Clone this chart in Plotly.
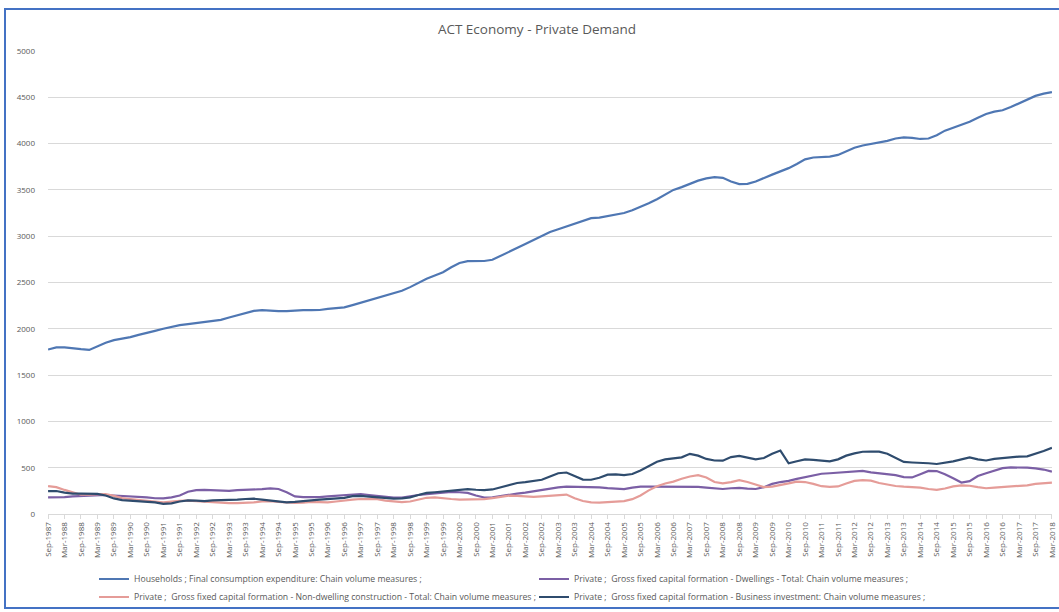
import plotly.graph_objects as go

months = ["Mar", "Jun", "Sep", "Dec"]
quarters = ["Sep-1987", "Dec-1987"] + [f"{m}-{y}" for y in range(1988, 2018) for m in months] + ["Mar-2018"]
tick_labels = quarters[::2]

households = [1776, 1800, 1800, 1794, 1780, 1772, 1810, 1850, 1878, 1892, 1910, 1935, 1960, 1978, 2000, 2022,
              2040, 2050, 2060, 2072, 2083, 2097, 2122, 2148, 2172, 2194, 2202, 2192, 2190, 2190, 2200, 2202,
              2202, 2203, 2216, 2226, 2232, 2256, 2282, 2306, 2340, 2366, 2385, 2410, 2450, 2495, 2540, 2575,
              2610, 2665, 2710, 2730, 2730, 2732, 2745, 2790, 2830, 2875, 2916, 2960, 3000, 3045, 3075, 3105,
              3140, 3170, 3195, 3200, 3215, 3230, 3250, 3280, 3315, 3355, 3400, 3450, 3500, 3530, 3565, 3600,
              3625, 3638, 3630, 3590, 3562, 3565, 3590, 3630, 3665, 3700, 3735, 3780, 3830, 3850, 3855, 3860,
              3878, 3920, 3955, 3980, 3995, 4010, 4030, 4055, 4068, 4062, 4050, 4055, 4090, 4140, 4170, 4200,
              4235, 4280, 4320, 4345, 4360, 4395, 4437, 4480, 4515, 4540, 4556]

dwellings = [180, 180, 182, 190, 194, 198, 202, 205, 200, 195, 194, 192, 180, 170, 168, 180,
             200, 240, 258, 260, 258, 250, 250, 258, 260, 260, 268, 277, 270, 235, 190, 182,
             180, 182, 190, 198, 205, 212, 216, 205, 195, 180, 176, 178, 195, 205, 215, 225,
             232, 238, 235, 228, 200, 178, 180, 195, 205, 220, 230, 245, 258, 275, 288, 295,
             295, 290, 290, 288, 280, 270, 268, 285, 295, 295, 295, 295, 298, 300, 300, 292,
             285, 275, 270, 278, 282, 275, 270, 290, 325, 345, 358, 380, 400, 420, 435, 440,
             445, 450, 460, 466, 450, 440, 432, 420, 398, 395, 430, 465, 464, 430, 385, 340,
             355, 410, 440, 465, 495, 503, 503, 500, 493, 480, 457]

non_dwelling = [302, 290, 260, 235, 208, 210, 216, 216, 195, 172, 162, 155, 148, 135, 125, 135,
                142, 145, 138, 135, 130, 125, 118, 118, 120, 125, 135, 140, 132, 125, 120, 122,
                130, 128, 126, 135, 148, 156, 162, 162, 160, 145, 135, 128, 135, 155, 175, 180,
                175, 162, 155, 155, 158, 160, 172, 185, 198, 195, 188, 185, 190, 195, 205, 210,
                170, 140, 125, 122, 128, 135, 140, 160, 200, 255, 300, 330, 350, 380, 405, 420,
                395, 345, 330, 345, 365, 345, 320, 290, 295, 310, 330, 350, 345, 325, 300, 292,
                298, 330, 358, 366, 360, 335, 318, 302, 295, 292, 285, 270, 260, 275, 298, 310,
                305, 290, 278, 285, 290, 292, 300, 310, 325, 335, 338]

business = [248, 248, 230, 220, 220, 220, 218, 200, 168, 150, 145, 140, 130, 125, 110, 115,
            135, 148, 145, 140, 148, 148, 150, 155, 162, 165, 155, 145, 130, 125, 130, 135,
            148, 155, 160, 165, 175, 192, 195, 188, 180, 172, 165, 168, 180, 205, 228, 235,
            245, 255, 265, 268, 262, 258, 265, 290, 310, 335, 345, 358, 370, 405, 440, 448,
            410, 372, 370, 392, 425, 428, 420, 432, 470, 520, 565, 590, 600, 612, 650, 630,
            595, 578, 576, 615, 628, 610, 590, 605, 650, 685, 548, 570, 590, 585, 578, 568,
            590, 630, 655, 672, 675, 673, 650, 605, 562, 556, 555, 548, 540, 552, 568, 590,
            612, 590, 578, 595, 605, 615, 620, 622, 650, 680, 715]

series = [
    ("Households ; Final consumption expenditure: Chain volume measures ;", households, "#4f77b3"),
    ("Private ;  Gross fixed capital formation - Dwellings - Total: Chain volume measures ;", dwellings, "#7b5fa5"),
    ("Private ;  Gross fixed capital formation - Non-dwelling construction - Total: Chain volume measures ;", non_dwelling, "#e59c98"),
    ("Private ;  Gross fixed capital formation - Business investment: Chain volume measures ;", business, "#2f4c6e"),
]

W, H = 1059, 612
L, R, T, B = 48, 7, 51, 98

# legend slot for each series: (left px, row centre px)
legend_slots = [(94, 579), (534, 579), (94, 597), (534, 597)]
legend_ids = ["legend", "legend2", "legend3", "legend4"]

fig = go.Figure()
for (name, vals, col), lid in zip(series, legend_ids):
    fig.add_trace(go.Scatter(x=quarters, y=vals, mode="lines", name=name, legend=lid,
                             line=dict(color=col, width=2.2)))

legend_layouts = {}
for lid, (lxp, lyp) in zip(legend_ids, legend_slots):
    legend_layouts[lid] = dict(orientation="v", xref="container", yref="container",
                               x=lxp / W, xanchor="left", y=1 - lyp / H, yanchor="middle",
                               font=dict(size=8.7, color="#595959"), bgcolor="rgba(0,0,0,0)")

fig.update_layout(
    width=W, height=H,
    margin=dict(l=L, r=R, t=T, b=B, autoexpand=False),
    paper_bgcolor="white", plot_bgcolor="white",
    font=dict(family="Open Sans, Arial, sans-serif", color="#595959"),
    title=dict(text="ACT Economy - Private Demand", x=537 / W, xref="container", xanchor="center",
               y=1 - 29 / H, yanchor="middle", font=dict(size=13.5, color="#595959")),
    showlegend=True,
    **legend_layouts,
    xaxis=dict(type="category", range=[-0.01, len(quarters) - 0.99], tickmode="array",
               tickvals=tick_labels, ticktext=tick_labels, tickangle=-90, automargin=False,
               tickfont=dict(size=8, color="#595959"), showgrid=False, zeroline=False,
               showline=True, linecolor="#d9d9d9", linewidth=1,
               ticks="outside", ticklen=4, tickcolor="#d9d9d9"),
    yaxis=dict(range=[0, 5000], tickmode="linear", tick0=0, dtick=500, automargin=False,
               tickfont=dict(size=8, color="#595959"), showgrid=True, gridcolor="#d9d9d9",
               gridwidth=1, zeroline=False, showline=False, ticks="", ticklabelstandoff=12),
    shapes=[dict(type="rect", xref="paper", yref="paper",
                 x0=(5 - L) / (W - L - R), x1=(1075 - L) / (W - L - R),
                 y0=(H - B - 608) / (H - T - B), y1=(H - B - 9) / (H - T - B),
                 line=dict(color="#4472c4", width=2), fillcolor="rgba(0,0,0,0)", layer="below")],
)

fig.write_html("out.html", config={"displayModeBar": False},
               post_script="document.body.style.margin='0';document.body.style.overflow='hidden';")
